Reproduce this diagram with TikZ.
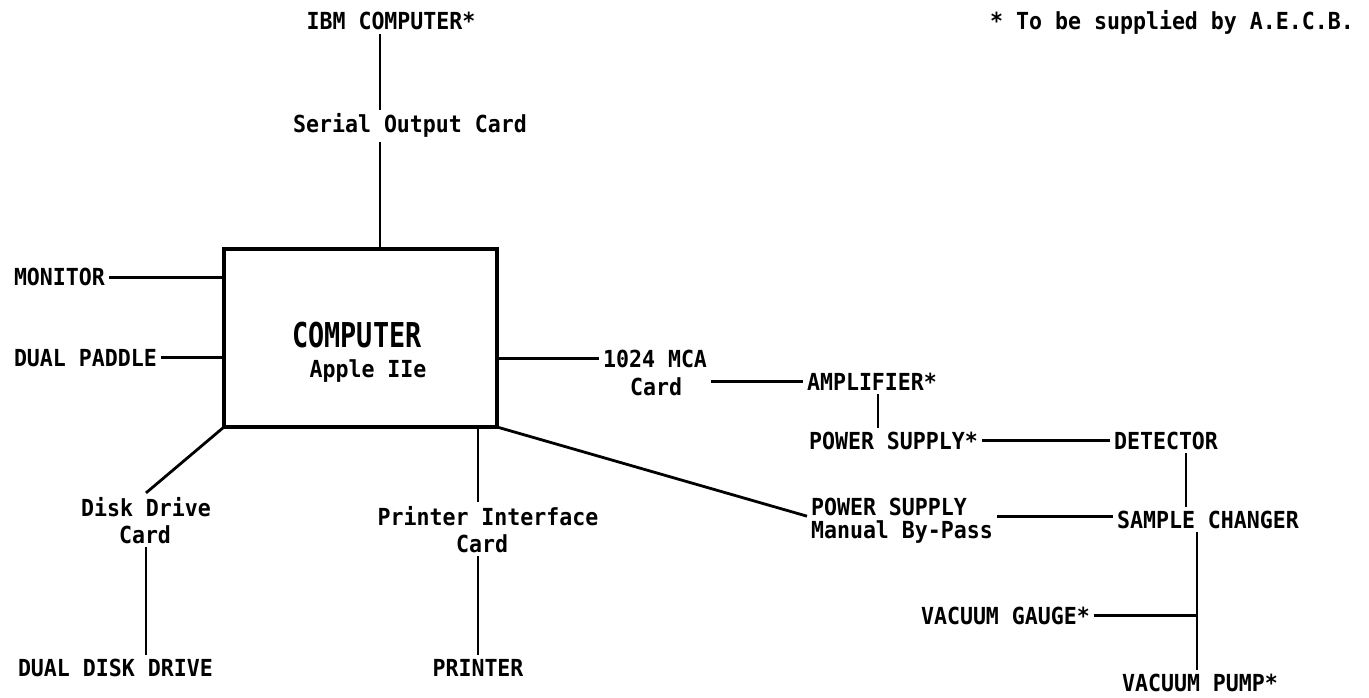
\documentclass[tikz,border=0pt]{standalone}
\usepackage{fontspec}
\usepackage{graphicx}
\newfontfamily\tw{DejaVu Sans Mono Bold}[FakeStretch=0.92]
\newcommand{\txtfont}{\tw\fontsize{17.6pt}{20pt}\selectfont}
\newcommand{\bigfont}{\tw\fontsize{25.7pt}{30pt}\selectfont}
\begin{document}
\begin{tikzpicture}[x=0.75pt,y=-0.75pt,
  lbl/.style={inner sep=0pt, outer sep=3pt, font=\txtfont, anchor=base},
  lblw/.style={lbl, anchor=base west},
  conn/.style={line width=2.1pt},
  cbox/.style={draw, line width=2.4pt, minimum width=204.75pt, minimum height=133.5pt, inner sep=0pt, outer sep=0pt}]
\useasboundingbox (0,0) rectangle (1369,698);

% central box
\node[cbox] (comp) at (360.5,338) {};
\node[inner sep=0pt, anchor=base] (comptxt) at (357,347) {\bigfont\scalebox{0.85}[1]{COMPUTER}};
\node[lbl] (apple) at (368,377) {Apple IIe};

% labels
\node[lbl] (note) at (1172,30) {* To be supplied by A.E.C.B.};
\node[lbl] (ibm) at (391,30) {IBM COMPUTER*};
\node[lbl] (serial) at (410,133) {Serial Output Card};
\node[lblw] (mon) at (10,286) {MONITOR};
\node[lblw] (pad) at (10,366) {DUAL PADDLE};
\node[lbl] (mca1) at (655,367) {1024 MCA};
\node[lbl] (mca2) at (656,395) {Card};
\node[lblw] (amp) at (803,390) {AMPLIFIER*};
\node[lblw] (psu1) at (805,449) {POWER SUPPLY*};
\node[lblw] (det) at (1110,449) {DETECTOR};
\node[lblw] (byp1) at (807,515) {POWER SUPPLY};
\node[lblw] (byp2) at (807,538) {Manual By-Pass};
\node[lblw] (samp) at (1113,528) {SAMPLE CHANGER};
\node[lblw] (gauge) at (917,624) {VACUUM GAUGE*};
\node[lblw] (pump) at (1118,691) {VACUUM PUMP*};
\node[lbl] (disk1) at (146,516) {Disk Drive};
\node[lbl] (disk2) at (145,543) {Card};
\node[lblw] (ddd) at (14,676) {DUAL DISK DRIVE};
\node[lbl] (pic1) at (488,525) {Printer Interface};
\node[lbl] (pic2) at (482,552) {Card};
\node[lbl] (prn) at (478,676) {PRINTER};

% helper coordinates for vertical connector positions
\coordinate (ctop) at (380,249);
\coordinate (apx) at (878,0);
\coordinate (dpx) at (1186,0);
\coordinate (spx) at (1197,0);
\coordinate (ppx) at (478,0);

% connectors
\draw[conn] (ibm.south -| ctop) -- (serial.north -| ctop);
\draw[conn] (serial.south -| ctop) -- (ctop);
\draw[conn] (mon.east) -- (mon.east -| comp.west);
\draw[conn] (pad.east) -- (pad.east -| comp.west);
\draw[conn] (comp.east |- mca1.west) -- (mca1.west);
\draw[conn] (amp.west -| mca1.east) -- (amp.west);
\draw[conn] (amp.south -| apx) -- (psu1.north -| apx);
\draw[conn] (psu1.east) -- (det.west);
\draw[conn] (det.south -| dpx) -- (samp.north -| dpx);
\draw[conn] (byp2.north east) -- (byp2.north east -| samp.west);
\draw[conn] (samp.south -| spx) -- (pump.north -| spx);
\draw[conn] (gauge.east) -- (gauge.east -| spx);
\draw[conn] (comp.south west) -- (disk1.north);
\draw[conn] (disk2.south -| disk1.north) -- (ddd.north -| disk1.north);
\draw[conn] (comp.south -| ppx) -- (pic1.north -| ppx);
\draw[conn] (pic2.south -| ppx) -- (prn.north -| ppx);
\draw[conn] (comp.south east) -- (byp2.north west);
\end{tikzpicture}
\end{document}
